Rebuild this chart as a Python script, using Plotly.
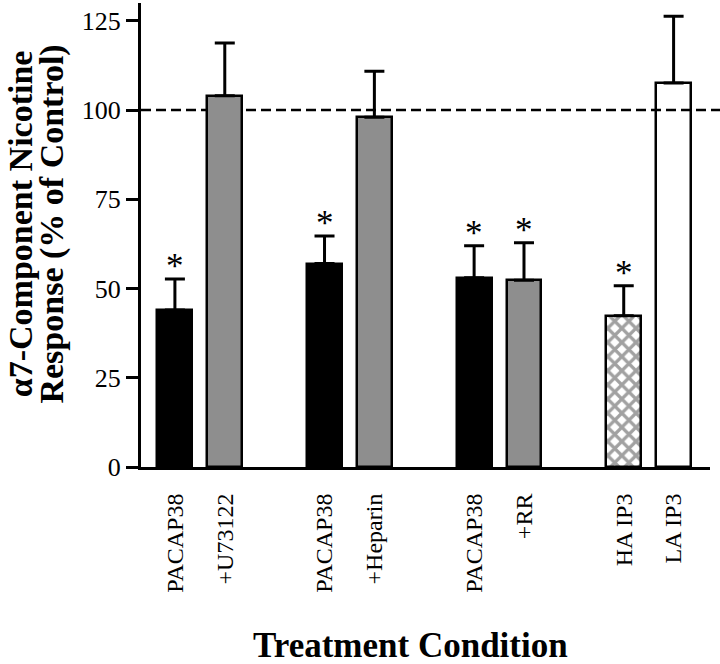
import plotly.graph_objects as go

# ---- data ----
labels = ["PACAP38", "+U73122", "PACAP38", "+Heparin", "PACAP38", "+RR", "HA IP3", "LA IP3"]
positions = [0, 1, 3, 4, 6, 7, 9, 10]
means = [44.0, 104.0, 57.0, 98.0, 53.0, 52.3, 42.4, 107.6]
sem = [8.7, 14.8, 7.7, 12.9, 9.0, 10.5, 8.4, 18.7]
significant = [True, False, True, False, True, True, True, False]
y_ticks = [0, 25, 50, 75, 100, 125]
control_level = 100

# ---- styles ----
GRAY = "#8e8e8e"
fill_colors = ["black", GRAY, "black", GRAY, "black", GRAY, "white", "rgba(0,0,0,0)"]
pattern_shapes = ["", "", "", "", "", "", "x", ""]
SERIF = "Liberation Serif, Times New Roman, serif"

fig = go.Figure()
fig.add_trace(go.Bar(
    x=positions,
    y=means,
    width=0.7,
    marker=dict(
        color=fill_colors,
        line=dict(color="black", width=2.5),
        pattern=dict(shape=pattern_shapes, fgcolor="black", bgcolor="white",
                     size=10, solidity=0.55),
    ),
    error_y=dict(type="data", symmetric=False, array=sem,
                 arrayminus=[0] * len(sem), color="black", thickness=3, width=10),
    showlegend=False,
))

# significance stars
for xp, m, s, sig in zip(positions, means, sem, significant):
    if sig:
        fig.add_annotation(x=xp, y=m + s, text="*", showarrow=False,
                           yanchor="bottom", yshift=-9,
                           font=dict(family=SERIF, size=35, color="black"))

# control reference line
fig.add_shape(type="line", xref="paper", yref="y", x0=0, x1=1.02,
              y0=control_level, y1=control_level, layer="below",
              line=dict(color="black", width=2.5, dash="10px,5px"))

# y-axis title (two lines)
fig.add_annotation(xref="paper", yref="paper", x=-0.212, y=0.524,
                   text="<b>α7-Component Nicotine</b>", textangle=-90,
                   showarrow=False, xanchor="center", yanchor="middle",
                   font=dict(family=SERIF, size=34, color="black"))
fig.add_annotation(xref="paper", yref="paper", x=-0.157, y=0.524,
                   text="<b>Response (% of Control)</b>", textangle=-90,
                   showarrow=False, xanchor="center", yanchor="middle",
                   font=dict(family=SERIF, size=34, color="black"))
# x-axis title
fig.add_annotation(xref="paper", yref="paper", x=0.4745, y=-0.384,
                   text="<b>Treatment Condition</b>", showarrow=False,
                   xanchor="center", yanchor="middle",
                   font=dict(family=SERIF, size=35, color="black"))

fig.update_layout(
    width=720, height=664,
    margin=dict(l=141, r=10, t=3, b=197),
    paper_bgcolor="white", plot_bgcolor="white",
    font=dict(family=SERIF, color="black"),
    xaxis=dict(range=[-0.68, 10.73], tickmode="array", tickvals=positions,
               ticktext=labels, tickangle=-90, ticks="", ticklabelstandoff=14,
               tickfont=dict(family=SERIF, size=24, color="black"),
               showline=True, linecolor="black", linewidth=3,
               showgrid=False, zeroline=False),
    yaxis=dict(range=[0, 130], tickmode="array", tickvals=y_ticks,
               ticks="outside", ticklen=12, tickwidth=2.5, tickcolor="black",
               tickfont=dict(family=SERIF, size=26, color="black"),
               showline=True, linecolor="black", linewidth=3,
               showgrid=False, zeroline=False),
    bargap=0,
)

fig.write_html("out.html", config={"displayModeBar": False},
               post_script="document.body.style.margin='0';document.body.style.overflow='hidden';")
